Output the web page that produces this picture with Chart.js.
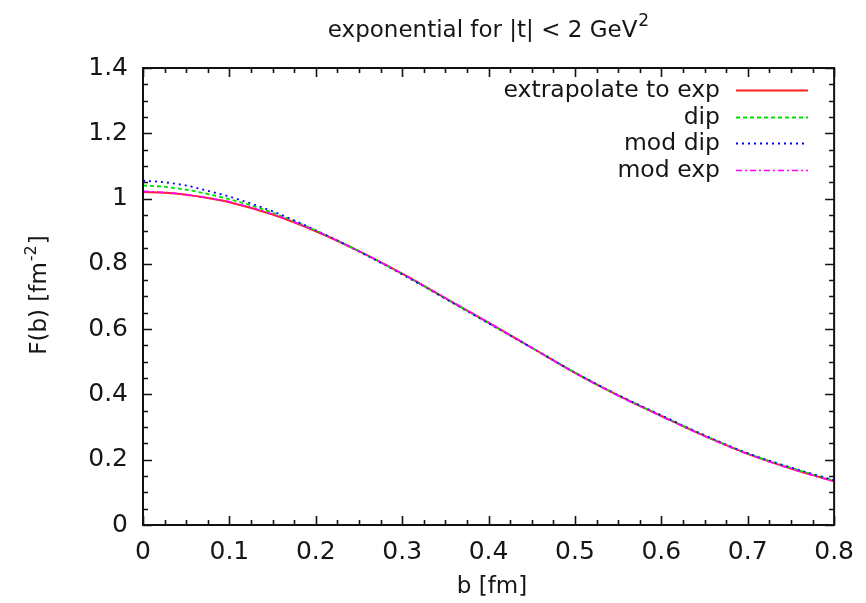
<!DOCTYPE html>
<html><head><meta charset="utf-8">
<script src="https://cdn.jsdelivr.net/npm/chart.js@4"></script>
<style>html,body{margin:0;padding:0;background:#fff}#wrap{width:866px;height:603px;position:relative}</style>
</head><body><div id="wrap"><canvas id="c"></canvas></div>
<script>
// ---- data ----
const bValues          = [0, 0.025, 0.05, 0.075, 0.1, 0.15, 0.2, 0.25, 0.3, 0.35, 0.4, 0.45, 0.5, 0.55, 0.6, 0.65, 0.7, 0.75, 0.8];
const extrapolateToExp = [1.020, 1.018, 1.012, 1.002, 0.989, 0.951, 0.900, 0.839, 0.770, 0.695, 0.620, 0.543, 0.466, 0.397, 0.334, 0.273, 0.218, 0.173, 0.134];
const dip              = [1.040, 1.036, 1.027, 1.014, 0.998, 0.957, 0.902, 0.839, 0.769, 0.694, 0.619, 0.543, 0.467, 0.397, 0.335, 0.274, 0.219, 0.175, 0.136];
const modDip           = [1.055, 1.050, 1.040, 1.024, 1.006, 0.961, 0.903, 0.838, 0.768, 0.693, 0.618, 0.543, 0.467, 0.398, 0.336, 0.275, 0.220, 0.176, 0.137];
const modExp           = [1.022, 1.019, 1.012, 1.002, 0.990, 0.952, 0.901, 0.839, 0.770, 0.695, 0.620, 0.543, 0.466, 0.396, 0.333, 0.272, 0.217, 0.172, 0.133];
const seriesLabels     = ['extrapolate to exp', 'dip', 'mod dip', 'mod exp'];
const xTickValues      = [0, 0.1, 0.2, 0.3, 0.4, 0.5, 0.6, 0.7, 0.8];
const yTickValues      = [0, 0.2, 0.4, 0.6, 0.8, 1, 1.2, 1.4];
const xTickLabels      = ['0', '0.1', '0.2', '0.3', '0.4', '0.5', '0.6', '0.7', '0.8'];
const yTickLabels      = ['0', '0.2', '0.4', '0.6', '0.8', '1', '1.2', '1.4'];
const titleMain = 'exponential for |t| < 2 GeV', titleSup = '2';
const xTitle = 'b [fm]';
const yTitleMain = 'F(b) [fm', yTitleSup = '-2', yTitleEnd = ']';

const FONT = '"DejaVu Sans", sans-serif';
const TXT = '#161616';

function pts(arr) { return bValues.map((b, i) => ({ x: b, y: arr[i] })); }

const decor = {
  id: 'decor',
  afterDatasetsDraw(chart) {
    const ctx = chart.ctx, a = chart.chartArea;
    const xs = chart.scales.x, ys = chart.scales.y;
    ctx.save();
    ctx.strokeStyle = '#111';
    ctx.lineWidth = 1.6;
    ctx.beginPath();
    for (let k = 0; k <= 32; k++) {
      const v = k * 0.025, px = Math.round(xs.getPixelForValue(v)) + 0.5;
      const len = (k % 4 === 0) ? 9 : 5;
      ctx.moveTo(px, a.bottom); ctx.lineTo(px, a.bottom - len);
      ctx.moveTo(px, a.top); ctx.lineTo(px, a.top + len);
    }
    for (let k = 0; k <= 28; k++) {
      const v = k * 0.05, py = Math.round(ys.getPixelForValue(v)) + 0.5;
      const len = (k % 4 === 0) ? 9 : 5;
      ctx.moveTo(a.left, py); ctx.lineTo(a.left + len, py);
      ctx.moveTo(a.right, py); ctx.lineTo(a.right - len, py);
    }
    ctx.stroke();
    ctx.lineWidth = 2;
    ctx.strokeRect(a.left, a.top, a.right - a.left, a.bottom - a.top);
    ctx.restore();
  },
  afterDraw(chart) {
    const ctx = chart.ctx;
    ctx.save();
    ctx.fillStyle = TXT;
    ctx.font = '23px ' + FONT;
    const w1 = ctx.measureText(titleMain).width;
    ctx.font = '17px ' + FONT;
    const w2 = ctx.measureText(titleSup).width;
    const tx = 488 - (w1 + w2) / 2;
    ctx.textBaseline = 'alphabetic';
    ctx.textAlign = 'left';
    ctx.font = '23px ' + FONT;
    ctx.fillText(titleMain, tx, 37);
    ctx.font = '17px ' + FONT;
    ctx.fillText(titleSup, tx + w1 + 1, 26);
    ctx.font = '23px ' + FONT;
    ctx.textAlign = 'center';
    ctx.fillText(xTitle, 492, 593);
    ctx.translate(46, 296);
    ctx.rotate(-Math.PI / 2);
    ctx.textAlign = 'left';
    ctx.font = '23px ' + FONT;
    const a1 = ctx.measureText(yTitleMain).width;
    const a3 = ctx.measureText(yTitleEnd).width;
    ctx.font = '16px ' + FONT;
    const a2 = ctx.measureText(yTitleSup).width;
    let sx = -(a1 + a2 + a3) / 2;
    ctx.font = '23px ' + FONT;
    ctx.fillText(yTitleMain, sx, 0);
    ctx.font = '16px ' + FONT;
    ctx.fillText(yTitleSup, sx + a1 + 1, -10);
    ctx.font = '23px ' + FONT;
    ctx.fillText(yTitleEnd, sx + a1 + a2 + 2, 0);
    ctx.restore();

    ctx.save();
    ctx.font = '23.5px ' + FONT;
    ctx.textAlign = 'right';
    ctx.textBaseline = 'middle';
    chart.data.datasets.forEach((ds, i) => {
      const y = 90 + i * 26.5;
      ctx.fillStyle = TXT;
      ctx.fillText(ds.label, 720, y + 1);
      ctx.strokeStyle = ds.borderColor;
      ctx.lineWidth = ds.borderWidth;
      ctx.setLineDash(ds.borderDash || []);
      ctx.beginPath();
      ctx.moveTo(736, Math.round(y) + 0.5);
      ctx.lineTo(808, Math.round(y) + 0.5);
      ctx.stroke();
    });
    ctx.restore();
  }
};

const common = { pointRadius: 0, fill: false, cubicInterpolationMode: 'monotone' };

new Chart(document.getElementById('c'), {
  type: 'line',
  data: {
    datasets: [
      { ...common, label: seriesLabels[0], data: pts(extrapolateToExp), borderColor: 'rgb(255,30,30)', borderWidth: 2, borderDash: [], order: 4 },
      { ...common, label: seriesLabels[1], data: pts(dip), borderColor: 'rgb(0,225,0)', borderWidth: 1.8, borderDash: [4, 3], order: 3 },
      { ...common, label: seriesLabels[2], data: pts(modDip), borderColor: 'rgb(0,0,255)', borderWidth: 1.8, borderDash: [2, 4], order: 2 },
      { ...common, label: seriesLabels[3], data: pts(modExp), borderColor: 'rgb(255,0,255)', borderWidth: 1.6, borderDash: [6, 3, 2, 3], order: 1 }
    ]
  },
  options: {
    responsive: true,
    maintainAspectRatio: false,
    animation: false,
    layout: { padding: { top: 68, right: 26, left: 0, bottom: 0 } },
    plugins: { legend: { display: false }, title: { display: false }, tooltip: { enabled: false } },
    scales: {
      x: {
        type: 'linear', min: 0, max: 0.8,
        afterBuildTicks: s => { s.ticks = xTickValues.map(v => ({ value: v })); },
        afterFit: s => { s.height = 78; },
        grid: { display: false, drawTicks: false },
        border: { display: false },
        ticks: {
          autoSkip: false, maxRotation: 0, padding: 12, color: TXT,
          font: { family: FONT, size: 25 },
          callback: (v) => { const i = xTickValues.findIndex(t => Math.abs(t - v) < 1e-9); return i >= 0 ? xTickLabels[i] : ''; }
        }
      },
      y: {
        type: 'linear', min: 0, max: 1.4,
        afterBuildTicks: s => { s.ticks = yTickValues.map(v => ({ value: v })); },
        afterFit: s => { s.width = 143; },
        grid: { display: false, drawTicks: false },
        border: { display: false },
        ticks: {
          autoSkip: false, padding: 15, color: TXT,
          font: { family: FONT, size: 25 },
          callback: (v) => { const i = yTickValues.findIndex(t => Math.abs(t - v) < 1e-9); return i >= 0 ? yTickLabels[i] : ''; }
        }
      }
    }
  },
  plugins: [decor]
});
</script></body></html>
